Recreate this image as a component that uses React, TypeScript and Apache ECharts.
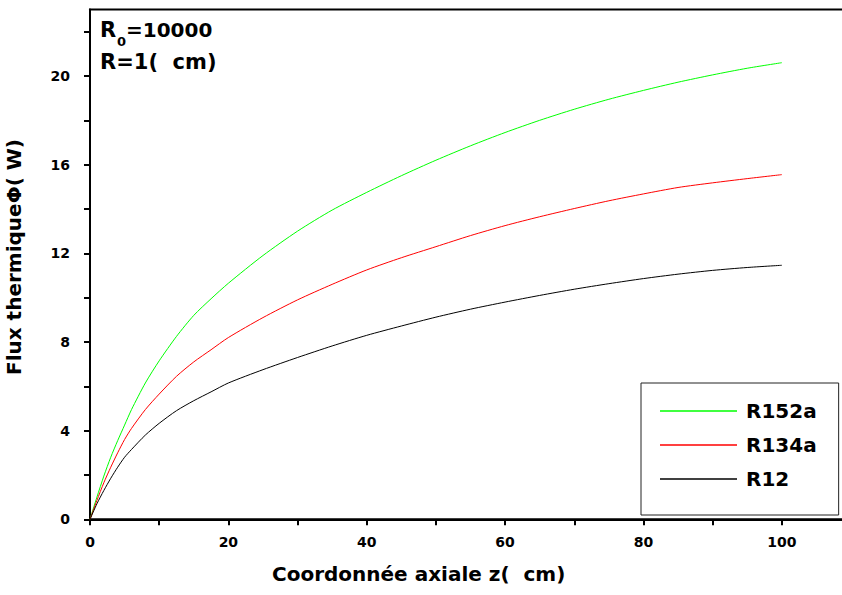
import React, { useEffect, useRef } from "react";
import * as echarts from "echarts";

const zValues = [0, 1, 2, 3, 4, 5, 6, 8, 10, 12.5, 15, 17.5, 20, 25, 30, 35, 40, 45, 50, 55, 60, 65, 70, 75, 80, 85, 90, 95, 100];
const r152a = [0, 1.0, 1.95, 2.8, 3.55, 4.25, 4.95, 6.15, 7.15, 8.25, 9.2, 9.95, 10.65, 11.9, 13.0, 13.95, 14.75, 15.5, 16.2, 16.85, 17.45, 18.0, 18.5, 18.95, 19.35, 19.72, 20.05, 20.35, 20.6];
const r134a = [0, 0.85, 1.65, 2.35, 3.0, 3.6, 4.1, 4.95, 5.65, 6.45, 7.1, 7.65, 8.2, 9.1, 9.9, 10.6, 11.25, 11.8, 12.3, 12.8, 13.25, 13.65, 14.02, 14.37, 14.68, 14.97, 15.18, 15.37, 15.55];
const r12 = [0, 0.7, 1.3, 1.85, 2.35, 2.8, 3.15, 3.8, 4.33, 4.9, 5.35, 5.75, 6.15, 6.75, 7.3, 7.82, 8.3, 8.72, 9.12, 9.48, 9.8, 10.1, 10.38, 10.63, 10.86, 11.06, 11.23, 11.36, 11.46];
const seriesNames = ["R152a", "R134a", "R12"];
const seriesColors = ["#00ff00", "#ff0000", "#000000"];
const xLabelValues = [0, 20, 40, 60, 80, 100];
const yLabelValues = [0, 4, 8, 12, 16, 20];

const FONT = "DejaVu Sans";

export default function App() {
  const ref = useRef<HTMLDivElement>(null);
  useEffect(() => {
    if (!ref.current) return;
    const chart = echarts.init(ref.current, null, { renderer: "svg" });
    const all = [r152a, r134a, r12];
    chart.setOption({
      animation: false,
      backgroundColor: "#ffffff",
      grid: {
        left: 90,
        top: 9.5,
        right: -9,
        bottom: 75.7,
        show: true,
        borderColor: "#000",
        borderWidth: 2,
        containLabel: false,
        outerBoundsMode: "none",
      },
      xAxis: {
        type: "value",
        min: 0,
        max: 110,
        interval: 10,
        axisLine: { show: true, onZero: false, lineStyle: { color: "#000", width: 2 } },
        axisTick: { show: true, inside: false, length: 6, lineStyle: { color: "#000", width: 2 } },
        splitLine: { show: false },
        axisLabel: {
          margin: 16,
          color: "#000",
          fontFamily: FONT,
          fontWeight: "bold",
          fontSize: 14,
          showMaxLabel: false,
          formatter: (v: number) => (xLabelValues.includes(v) ? String(v) : ""),
        },
      },
      yAxis: {
        type: "value",
        min: 0,
        max: 23,
        interval: 2,
        axisLine: { show: true, onZero: false, lineStyle: { color: "#000", width: 2 } },
        axisTick: { show: true, inside: false, length: 6, lineStyle: { color: "#000", width: 2 } },
        splitLine: { show: false },
        axisLabel: {
          margin: 20,
          color: "#000",
          fontFamily: FONT,
          fontWeight: "bold",
          fontSize: 14,
          showMaxLabel: false,
          formatter: (v: number) => (yLabelValues.includes(v) ? String(v) : ""),
        },
      },
      legend: {
        orient: "vertical",
        left: 641,
        top: 383,
        padding: [18, 22, 26, 19],
        icon: "rect",
        itemWidth: 77,
        itemHeight: 1.5,
        itemGap: 14,
        borderColor: "#222",
        borderWidth: 1,
        backgroundColor: "#fff",
        textStyle: {
          fontFamily: FONT,
          fontWeight: "bold",
          fontSize: 20,
          color: "#000",
          padding: [0, 0, 0, 4],
        },
        data: seriesNames,
      },
      series: seriesNames.map((name, i) => ({
        name,
        type: "line",
        symbol: "none",
        smooth: 0.25,
        lineStyle: { color: seriesColors[i], width: 1 },
        itemStyle: { color: seriesColors[i] },
        data: zValues.map((z, j) => [z, all[i][j]]),
      })),
      graphic: [
        { type: "text", left: 100, top: 19, style: { text: "R", fontFamily: FONT, fontWeight: "bold", fontSize: 21, fill: "#000" } },
        { type: "text", left: 117, top: 35, style: { text: "0", fontFamily: FONT, fontWeight: "bold", fontSize: 13, fill: "#000" } },
        { type: "text", left: 126, top: 20, style: { text: "=10000", fontFamily: FONT, fontWeight: "bold", fontSize: 20, fill: "#000" } },
        { type: "text", left: 100, top: 51, style: { text: "R=1(  cm)", fontFamily: FONT, fontWeight: "bold", fontSize: 21, fill: "#000" } },
        {
          type: "text",
          left: 272,
          top: 564,
          style: { text: "Coordonnée axiale z(  cm)", fontFamily: FONT, fontWeight: "bold", fontSize: 20, fill: "#000" },
        },
        {
          type: "text",
          x: 4,
          y: 375,
          rotation: Math.PI / 2,
          style: { text: "Flux thermiqueΦ( W)", fontFamily: FONT, fontWeight: "bold", fontSize: 20, fill: "#000", align: "left", verticalAlign: "top" },
        },
      ],
    });
    return () => chart.dispose();
  }, []);
  return <div ref={ref} style={{ position: "absolute", left: 0, top: 0, width: 842, height: 595 }} />;
}
